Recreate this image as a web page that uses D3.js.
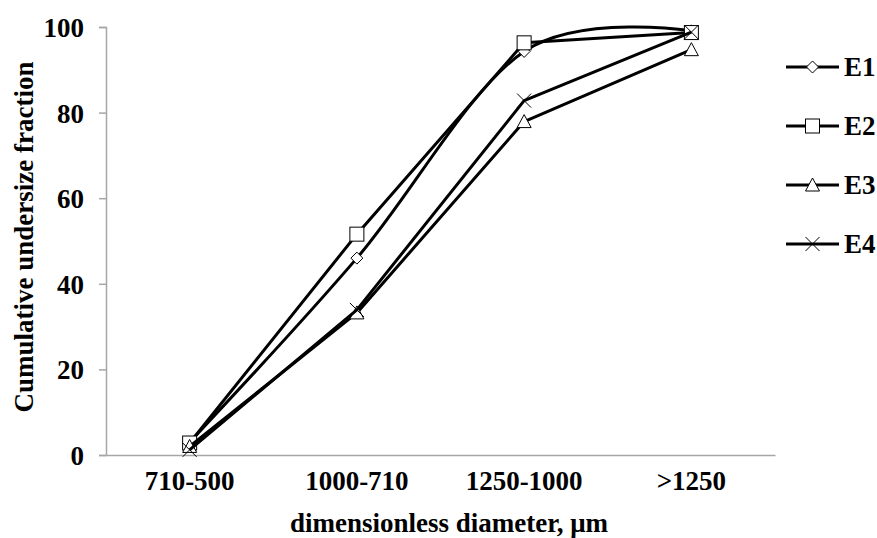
<!DOCTYPE html>
<html><head><meta charset="utf-8">
<script src="https://cdn.jsdelivr.net/npm/d3@7"></script>
<style>
body{margin:0;background:#fff;}
text{font-family:"Liberation Serif","Times New Roman",serif;font-weight:bold;fill:#000;}
</style></head>
<body>
<svg id="c" width="877" height="538"></svg>
<script>
const categories = ["710-500","1000-710","1250-1000",">1250"];
const seriesNames = ["E1","E2","E3","E4"];
const E1 = [3.0, 46.0, 94.3, 99.1];
const E2 = [2.8, 51.6, 96.3, 98.7];
const E3 = [2.0, 33.2, 77.9, 94.7];
const E4 = [1.2, 33.9, 82.8, 98.8];
const yTicks = [0,20,40,60,80,100];
const markerTypes = ["diamond","square","triangle","cross"];
const smoothFlags = [true,false,false,false];

const series = [E1,E2,E3,E4];
const svg = d3.select("#c");
const x = d3.scaleBand().domain(categories).range([106,775]).paddingInner(0).paddingOuter(0);
const y = d3.scaleLinear().domain([0,100]).range([455,27]);
const axisColor = "#a6a6a6";
const fs = "27px";

// y axis
const ya = svg.append("g").attr("transform","translate(106,0)")
  .call(d3.axisLeft(y).tickValues(yTicks).tickSize(7).tickPadding(15));
ya.select(".domain").attr("stroke",axisColor).attr("stroke-width",1.5);
ya.selectAll(".tick line").attr("stroke",axisColor).attr("stroke-width",1.5);
ya.selectAll(".tick text").style("font-size",fs).style("font-family","'Liberation Serif',serif").style("font-weight","bold").attr("dy","0.35em");

// x axis
const xa = svg.append("g").attr("transform","translate(0,455)")
  .call(d3.axisBottom(x).tickSize(0).tickPadding(16));
xa.select(".domain").attr("stroke",axisColor).attr("stroke-width",1.5);
xa.selectAll(".tick text").style("font-size",fs).style("font-family","'Liberation Serif',serif").style("font-weight","bold").attr("dy","0.71em");

// titles
svg.append("text").attr("x",449).attr("y",532).attr("text-anchor","middle")
  .style("font-size",fs).text("dimensionless diameter, μm");
svg.append("text").attr("transform","translate(33,237) rotate(-90)").attr("text-anchor","middle")
  .style("font-size",fs).text("Cumulative undersize fraction");

const cx = c => x(c) + x.bandwidth()/2;

function drawMarker(g, type, px, py){
  const s = 7;
  if(type==="diamond"){
    g.append("path").attr("d",`M${px},${py-6}L${px+6},${py}L${px},${py+6}L${px-6},${py}Z`)
      .attr("fill","#fff").attr("stroke","#000").attr("stroke-width",1);
  } else if(type==="square"){
    g.append("rect").attr("x",px-s).attr("y",py-s).attr("width",2*s).attr("height",2*s)
      .attr("fill","#fff").attr("stroke","#000").attr("stroke-width",1);
  } else if(type==="triangle"){
    g.append("path").attr("d",`M${px},${py-7}L${px+7},${py+6}L${px-7},${py+6}Z`)
      .attr("fill","#fff").attr("stroke","#000").attr("stroke-width",1);
  } else {
    g.append("path").attr("d",`M${px-7},${py-7}L${px+7},${py+7}M${px-7},${py+7}L${px+7},${py-7}`)
      .attr("fill","none").attr("stroke","#000").attr("stroke-width",1);
  }
}

series.forEach((vals,i)=>{
  const g = svg.append("g");
  const pts = vals.map((v,j)=>[cx(categories[j]), y(v)]);
  const line = d3.line().curve(smoothFlags[i] ? d3.curveCardinal.tension(0) : d3.curveLinear);
  g.append("path").attr("d",line(pts)).attr("fill","none").attr("stroke","#000")
    .attr("stroke-width",3).attr("stroke-linejoin","round");
  pts.forEach(p=>drawMarker(g, markerTypes[i], p[0], p[1]));
});

// legend
const legY = [67,126,185,244];
seriesNames.forEach((n,i)=>{
  const g = svg.append("g");
  g.append("line").attr("x1",786).attr("x2",839).attr("y1",legY[i]).attr("y2",legY[i])
    .attr("stroke","#000").attr("stroke-width",3);
  drawMarker(g, markerTypes[i], 812.5, legY[i]);
  g.append("text").attr("x",844).attr("y",legY[i]).attr("dy","0.35em")
    .style("font-size",fs).text(n);
});
</script>
</body></html>
